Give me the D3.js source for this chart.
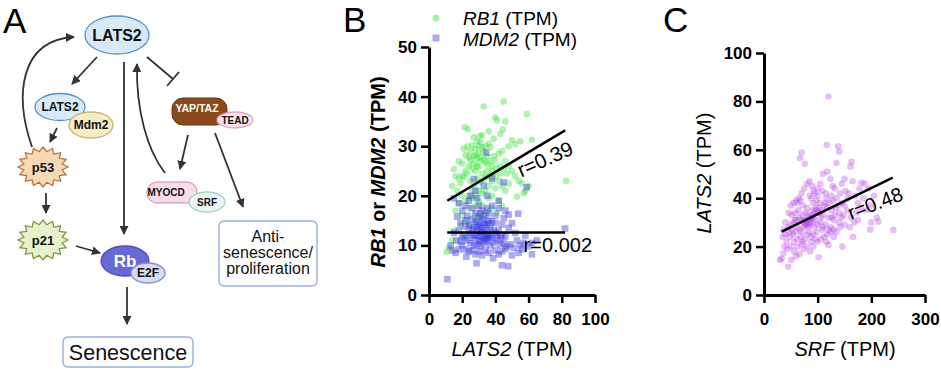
<!DOCTYPE html>
<html><head><meta charset="utf-8">
<script src="https://cdn.jsdelivr.net/npm/d3@7"></script>
<style>body{margin:0;background:#fff}svg{display:block}</style>
</head><body>
<svg id="fig" width="941" height="374"></svg>
<script>
// ---------- DATA ----------
const panelLetters = ["A","B","C"];
const bXTicks = [0,20,40,60,80,100];
const bYTicks = [0,10,20,30,40,50];
const cXTicks = [0,100,200,300];
const cYTicks = [0,20,40,60,80,100];
const rb1Points = [[45,39],[33,38],[59,36.5],[40,35.8],[41,35.2],[46,35],[21.5,33.8],[23.5,33.4],[36,33],[30.5,32],[44.5,33.4],[43,32.5],[62,31.3],[50,31.2],[52,30.4],[55,31],[48,30],[39,31.5],[27,31.8],[32,32.2],
[25,29],[28,29.5],[30,28.6],[33,29],[35,28],[37,29.8],[29,27.5],[31,27],[34,26.8],[27,26.5],[24,27.8],[22,28.2],[20,26.5],[18,27],[26,25.5],[28,25],[30,25.8],[32,24.5],[35,25],[38,26],[40,27.2],[42,28.5],[44,29],[46,27],[48,26],[50,25],[52,24],[54,23],[56,22.5],[58,21],[53,19.8],[57,20.5],[82.5,23],[60,22],
[15,25.4],[16,24],[14,22],[17,21],[19,22.5],[21,23.8],[23,24.5],[25,23],[27,22],[29,23.5],[31,22.8],[33,23.2],[36,22],[38,23],[40,24],[42,23],[44,22],[46,21],[48,22.5],[47,24.5],[45,25.5],[43,26],[39,28],[36,30.5],[34,30],[31,30.8],[29,31],[26,30.2],[23,30],[21,29.5],[24,26],[22,25],[20,24],[18,23.5],[26,21],[28,20],[30,21],[32,20.5],[34,21],[36,19.5],[38,20],[40,21.5],[42,19],[44,18],[30,19],[28,18],[26,19.5],[24,20],[22,19],[20,20],[18,18.5],[16,17],[20,16],[24,17.5],[32,18],[35,17],[38,17.5],[41,16.5],[27,16],[30,15.5],[33,16],[23,15],[19,14],[25,14],[29,13],[35,14],[15,13],[12,9.5],[10.5,8.7],[14,11],[22,12],[31,27.8],[33,27.3],[35,26.3],[37,27],[29,26],[27,28],[25,27.2],[32,29.8],[30,30],[28,28.2],[36,24],[34,23.8],[38,25],[41,25.5],[43,24.5]];
const mdm2Points = [[11,3.2],[34.6,28.7],[27,23.4],[45,22.7],[58.8,21.7],[53.7,16.4],[82,13.4],[44,6],[47.7,5.8],[28.6,6.4],[22.5,7.7],[62,8.2],[54,8.5],[38.6,7.4],[16.5,11],
[15,19.5],[18,18.5],[20,17],[25,20],[33,22],[38,23.5],[42,19],[30,18],[35,17.5],[23,16],[28,16.5],[40,16],[45,15.5],[48,16.2],[50,14.5],[36,15],
[30,14],[32,13.5],[34,14.2],[29,13],[31,12.5],[33,12.8],[35,13],[37,13.5],[28,12],[26,13.2],[24,12.5],[22,13.8],[20,12],[18,13],[27,11.5],[30,11],[32,11.8],[34,11.2],[36,12],[38,11.5],[40,12.5],[42,13],[44,12],[46,11.8],[25,10.5],[27,10],[29,10.2],[31,9.8],[33,10.4],[35,10.8],[37,10],[39,10.5],[41,11],[43,10.2],[45,10.5],[47,9.8],[49,10.2],[51,9.5],[53,11],[55,10],[57,10.5],[60,9.8],[62,10.5],[65,11],[58,12],[52,12.5],[48,13.5],[44,14.2],[40,14.5],[38,14.8],[36,14.5],[32,15.2],[30,15.8],[28,14.8],[26,15.2],[24,14],[22,15],[19,14.5],[17,15.8],[15,12.5],[13,10],[14,9],[16,8.5],[18,9.2],[20,10],[22,9.2],[24,8.8],[26,9],[28,8.2],[30,8.8],[32,8],[34,9],[36,8.5],[40,9],[42,8.2],[44,8.8],[46,9.3],[50,8],[56,9.2],[31,13.8],[33,14.6],[29,14.4],[35,12.2],[37,11.8],[27,13.6],[33,11.6],[31,11],[29,12],[35,11.4],[39,13],[41,12],[43,11.5],[23,11],[21,11.5],[19,10.8],[25,12],[34,16],[36,16.5],[26,17.5],[32,17],[22,18],[38,18],[29,19.5],[46,17],[42,17.5],[28,21],[35,20],[31,16.5],[24,19]];
const srfPoints = [[120,82],[117,62],[138,61.4],[140,59.3],[70,58.9],[67,56.6],[76,54.2],[163,55],[135,54.5],[161,53],[182,46.5],[213,30.3],[241,26.9],[166,24],[146,20],[120,20.7],[102,15.6],[45,11.7],[36,17.2],[51,14.5],[30,14.5],[33,15],
[110,50],[118,51],[124,48],[105,46],[128,45],[132,44],[145,46],[152,43],[158,42],[170,41],[175,38],[180,36],[190,35],[200,37],[205,41],[195,44],[185,40],[165,47],[150,48],[142,42],[135,40],[125,41],[115,42],[108,43],[100,44],[95,42],[90,45],[85,47],[80,46],[75,44],[70,42],[65,40],[60,39],[55,38],[50,37],
[88,40],[92,38],[98,39],[104,38],[112,37],[118,36],[126,35],[134,36],[140,34],[148,33],[155,35],[162,32],[168,30],[175,31],[160,28],[150,29],[140,30],[130,31],[120,32],[110,33],[100,34],[90,35],[80,36],[72,37],[64,35],[58,34],[52,33],[46,34],
[40,30],[45,28],[50,29],[55,30],[60,31],[65,32],[70,31],[75,30],[80,31],[85,32],[90,30],[95,31],[100,29],[105,30],[110,28],[115,29],[120,27],[125,28],[130,27],[135,26],[142,28],[82,33],[78,34],[86,29],[94,28],[62,28],[66,27],[70,26],[74,28],[58,26],[54,25],[48,24],[42,22],[38,20],[44,19],[50,20],[56,22],[62,23],[68,24],[72,22],[76,23],[80,25],[84,26],[88,24],[92,25],[96,23],[100,22],[106,23],[112,24],[118,25],[124,26],
[78,30],[80,29],[82,28],[76,29],[84,30],[86,31],[88,32],[90,33],[92,32],[74,31],[72,33],[94,34],[96,36],[98,35],[102,36],[104,34],[106,32],[108,35],[114,38],[116,40],[122,38],[128,39],[85,41],[92,43],[100,41],[62,38],[68,39],[58,31],[52,27],[46,26],[40,25],[35,24],[36,27],[62,20],[66,17],[74,19],[70,21],[56,18],[60,16],[80,20],[88,22],[145,38],[150,37],[156,40],[172,34],[178,44],[188,46],[200,30],[210,32],[198,27],[138,37],[144,32],[132,33],[126,32],[108,27],[116,22],[130,24],[98,26],[86,18],[92,20]];
const rb1Fit = [[11,19],[82,33.2]];
const mdm2Fit = [[11,12.6],[82,12.6]];
const srfFit = [[33,26.2],[240,48.5]];
const rLabels = {rb1:"r=0.39", mdm2:"r=0.002", srf:"r=0.48"};
const legendLabels = [["RB1"," (TPM)"],["MDM2"," (TPM)"]];

// ---------- DRAW ----------
const svg = d3.select("#fig");
const FONT = "'Liberation Sans', Arial, Helvetica, sans-serif";
svg.append("rect").attr("width",941).attr("height",374).attr("fill","#fff");

const letterPos = [[3,33],[343,32],[663,32]];
panelLetters.forEach((l,i)=>svg.append("text").attr("x",letterPos[i][0]).attr("y",letterPos[i][1])
  .attr("font-family",FONT).attr("font-size",35).text(l));

// ===== Panel A: diagram =====
const defs = svg.append("defs");
defs.append("marker").attr("id","arr").attr("viewBox","0 0 10 10").attr("refX",9).attr("refY",5)
  .attr("markerWidth",9).attr("markerHeight",9).attr("markerUnits","userSpaceOnUse").attr("orient","auto")
  .append("path").attr("d","M0,0 L10,5 L0,10 z").attr("fill","#333");
const A = svg.append("g");
const ink = "#333";
function arrow(d){A.append("path").attr("d",d).attr("fill","none").attr("stroke",ink).attr("stroke-width",1.8).attr("marker-end","url(#arr)");}
function ell(cx,cy,rx,ry,fill,stroke){A.append("ellipse").attr("cx",cx).attr("cy",cy).attr("rx",rx).attr("ry",ry).attr("fill",fill).attr("stroke",stroke).attr("stroke-width",1.3);}
function txt(x,y,s,size,weight,color){A.append("text").attr("x",x).attr("y",y).attr("text-anchor","middle").attr("font-family",FONT)
  .attr("font-size",size).attr("font-weight",weight||"normal").attr("fill",color||"#111").text(s);}
function star(cx,cy,rx,ry,n,fill,stroke){
  const pts=[];for(let i=0;i<2*n;i++){const a=Math.PI*i/n; const f=i%2?0.78:1; pts.push([cx+rx*f*Math.cos(a),cy+ry*f*Math.sin(a)]);}
  A.append("path").attr("d",d3.line()(pts)+"Z").attr("fill",fill).attr("stroke",stroke).attr("stroke-width",1.3);}

arrow("M32,147 C14,95 20,40 74,37");
arrow("M97,57 L72,84");
arrow("M124,62 L124,234");
arrow("M165,173 C147,150 136,110 137,64");
A.append("path").attr("d","M147,57 L173,79").attr("stroke",ink).attr("stroke-width",1.8);
A.append("path").attr("d","M167,86 L179,72").attr("stroke",ink).attr("stroke-width",1.8);
arrow("M57,128 L50,142");
arrow("M46,193 L46,213");
arrow("M76,246 L100,253");
arrow("M127,287 L127,324");
arrow("M188,135 L180,169");
arrow("M215,133 L243,207");

ell(117,35,32,19,"#d8e9f8","#5b8fc7"); txt(117,41,"LATS2",16,"bold");
ell(60,107,25,13.5,"#d8e9f8","#5b8fc7"); txt(60,111,"LATS2",12,"bold");
ell(91,125,22,13,"#f7edc4","#c9b46a"); txt(91,129,"Mdm2",12,"bold");
star(43,167,25,20,16,"#f6d9b5","#c0703a"); txt(43,172,"p53",13,"bold");
star(43,240,25,20,16,"#e8f0cc","#7a9a40"); txt(43,245,"p21",13,"bold");
ell(125,261,24,15,"#6868d6","#5050b8"); txt(125,267,"Rb",17,"bold","#fff");
ell(148,273,17,10,"#d5dcf4","#8090c8"); txt(148,277,"E2F",12,"bold");
A.append("rect").attr("x",172).attr("y",98).attr("width",55).attr("height",27).attr("rx",11).attr("fill","#8b4a1c").attr("stroke","#6a3510");
txt(197,112,"YAP/TAZ",10.5,"bold","#fff");
ell(235,120,18,8,"#fbe4ee","#e3a6c4"); txt(235,124,"TEAD",10,"bold");
A.append("rect").attr("x",147).attr("y",182).attr("width",50).attr("height",21).attr("rx",10).attr("fill","#f9dcea").attr("stroke","#c58aa8");
txt(166,196,"MYOCD",10,"bold");
ell(207,202,18,10,"#e9f6f1","#a6d3c3"); txt(207,206,"SRF",10,"bold");
A.append("rect").attr("x",63).attr("y",337).attr("width",130).attr("height",30).attr("rx",5).attr("fill","#fff").attr("stroke","#9ab0dc").attr("stroke-width",1.4);
txt(128,360,"Senescence",21.5);
A.append("rect").attr("x",219).attr("y",221).attr("width",98).attr("height",65).attr("rx",5).attr("fill","#fff").attr("stroke","#9ab0dc").attr("stroke-width",1.4);
txt(268,242,"Anti-",16); txt(268,258,"senescence/",16); txt(268,274,"proliferation",16);

function styleAxis(g){
  g.select(".domain").attr("stroke","#000").attr("stroke-width",3);
  g.selectAll(".tick line").attr("stroke","#000").attr("stroke-width",2.5);
  g.selectAll(".tick text").attr("font-family",FONT).attr("font-size",17).attr("font-weight","bold").attr("fill","#000");
}

// ===== Panel B =====
const xB = d3.scaleLinear().domain([0,100]).range([429,595]);
const yB = d3.scaleLinear().domain([0,50]).range([295,47]);
const B = svg.append("g");
B.append("g").selectAll("circle").data(rb1Points).join("circle")
  .attr("cx",d=>xB(d[0])).attr("cy",d=>yB(d[1])).attr("r",3.3).attr("fill","rgb(55,225,55)").attr("fill-opacity",0.4);
B.append("g").selectAll("rect").data(mdm2Points).join("rect")
  .attr("x",d=>xB(d[0])-3.3).attr("y",d=>yB(d[1])-3.3).attr("width",6.6).attr("height",6.6).attr("fill","rgb(45,45,225)").attr("fill-opacity",0.4);
const lineB = d3.line().x(d=>xB(d[0])).y(d=>yB(d[1]));
B.append("path").attr("d",lineB(rb1Fit)).attr("stroke","#000").attr("stroke-width",2.5).attr("fill","none");
B.append("path").attr("d",lineB(mdm2Fit)).attr("stroke","#000").attr("stroke-width",2.5).attr("fill","none");
B.append("text").attr("transform",`translate(${xB(55.5)},${yB(23.7)}) rotate(-24)`)
  .attr("font-family",FONT).attr("font-size",20.5).text(rLabels.rb1);
B.append("text").attr("x",xB(57)).attr("y",yB(8.6)).attr("font-family",FONT).attr("font-size",20).text(rLabels.mdm2);
const gxB = B.append("g").attr("transform",`translate(0,${yB(0)})`)
  .call(d3.axisBottom(xB).tickValues(bXTicks).tickSize(8).tickSizeOuter(0).tickPadding(10));
styleAxis(gxB);
const gyB = B.append("g").attr("transform",`translate(${xB(0)},0)`)
  .call(d3.axisLeft(yB).tickValues(bYTicks).tickSize(8).tickSizeOuter(0).tickPadding(4));
styleAxis(gyB);
B.append("circle").attr("cx",436).attr("cy",18).attr("r",3.5).attr("fill","rgb(55,225,55)").attr("fill-opacity",0.45);
B.append("rect").attr("x",432.5).attr("y",34.5).attr("width",7).attr("height",7).attr("fill","rgb(45,45,225)").attr("fill-opacity",0.4);
legendLabels.forEach((l,i)=>{
  const t=B.append("text").attr("x",463).attr("y",25+i*21).attr("font-family",FONT).attr("font-size",19);
  t.append("tspan").attr("font-style","italic").text(l[0]); t.append("tspan").text(l[1]);
});
const tb = B.append("text").attr("x",xB(50)).attr("y",356).attr("text-anchor","middle").attr("font-family",FONT).attr("font-size",20);
tb.append("tspan").attr("font-style","italic").text("LATS2"); tb.append("tspan").text(" (TPM)");
const ty = B.append("text").attr("transform","translate(385,172) rotate(-90)").attr("text-anchor","middle")
  .attr("font-family",FONT).attr("font-size",20).attr("font-weight","bold");
ty.append("tspan").attr("font-style","italic").text("RB1"); ty.append("tspan").text(" or ");
ty.append("tspan").attr("font-style","italic").text("MDM2"); ty.append("tspan").text(" (TPM)");

// ===== Panel C =====
const xC = d3.scaleLinear().domain([0,300]).range([764,925]);
const yC = d3.scaleLinear().domain([0,100]).range([295,53]);
const C = svg.append("g");
C.append("g").selectAll("circle").data(srfPoints).join("circle")
  .attr("cx",d=>xC(d[0])).attr("cy",d=>yC(d[1])).attr("r",3.3).attr("fill","rgb(180,60,230)").attr("fill-opacity",0.33);
const lineC = d3.line().x(d=>xC(d[0])).y(d=>yC(d[1]));
C.append("path").attr("d",lineC(srfFit)).attr("stroke","#000").attr("stroke-width",2.5).attr("fill","none");
C.append("text").attr("transform",`translate(${xC(162)},${yC(31)}) rotate(-21)`)
  .attr("font-family",FONT).attr("font-size",20).text(rLabels.srf);
const gxC = C.append("g").attr("transform",`translate(0,${yC(0)})`)
  .call(d3.axisBottom(xC).tickValues(cXTicks).tickSize(8).tickSizeOuter(0).tickPadding(10));
styleAxis(gxC);
const gyC = C.append("g").attr("transform",`translate(${xC(0)},0)`)
  .call(d3.axisLeft(yC).tickValues(cYTicks).tickSize(8).tickSizeOuter(0).tickPadding(4));
styleAxis(gyC);
const tcx = C.append("text").attr("x",845).attr("y",356).attr("text-anchor","middle").attr("font-family",FONT).attr("font-size",20);
tcx.append("tspan").attr("font-style","italic").text("SRF"); tcx.append("tspan").text(" (TPM)");
const tcy = C.append("text").attr("transform","translate(711,173) rotate(-90)").attr("text-anchor","middle")
  .attr("font-family",FONT).attr("font-size",20);
tcy.append("tspan").attr("font-style","italic").text("LATS2"); tcy.append("tspan").text(" (TPM)");
</script>
</body></html>
